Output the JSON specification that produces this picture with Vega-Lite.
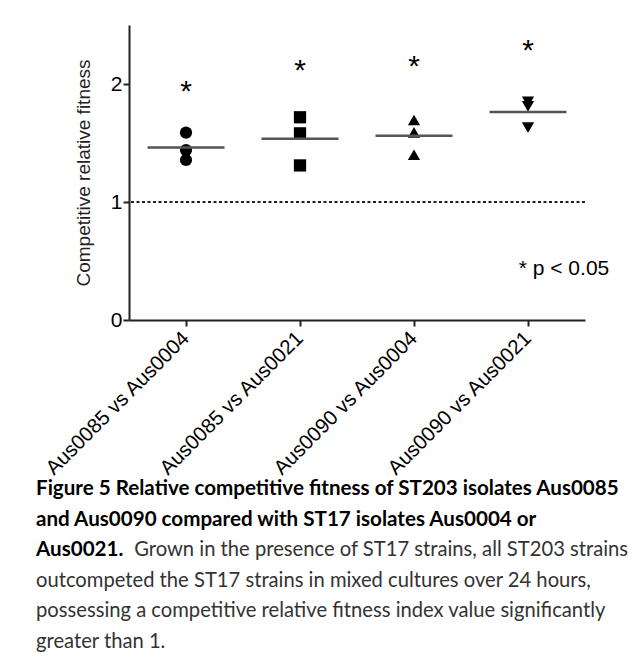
{
  "$schema": "https://vega.github.io/schema/vega-lite/v6.json",
  "width": 456,
  "height": 295,
  "autosize": {"type": "none"},
  "padding": {"left": 129, "top": 25, "right": 48, "bottom": 342},
  "background": "white",
  "config": {"view": {"stroke": null}, "font": "Liberation Sans"},
  "datasets": {
    "points": [
      {"group": "Aus0085 vs Aus0004", "value": 1.588},
      {"group": "Aus0085 vs Aus0004", "value": 1.44},
      {"group": "Aus0085 vs Aus0004", "value": 1.356},
      {"group": "Aus0085 vs Aus0021", "value": 1.718},
      {"group": "Aus0085 vs Aus0021", "value": 1.582},
      {"group": "Aus0085 vs Aus0021", "value": 1.31},
      {"group": "Aus0090 vs Aus0004", "value": 1.695},
      {"group": "Aus0090 vs Aus0004", "value": 1.59},
      {"group": "Aus0090 vs Aus0004", "value": 1.40},
      {"group": "Aus0090 vs Aus0021", "value": 1.85},
      {"group": "Aus0090 vs Aus0021", "value": 1.81},
      {"group": "Aus0090 vs Aus0021", "value": 1.63}
    ],
    "stars": [
      {"group": "Aus0085 vs Aus0004", "value": 2.0},
      {"group": "Aus0085 vs Aus0021", "value": 2.18},
      {"group": "Aus0090 vs Aus0004", "value": 2.21},
      {"group": "Aus0090 vs Aus0021", "value": 2.35}
    ],
    "note": [{"group": "Aus0090 vs Aus0021", "value": 0.38, "label": "* p < 0.05"}],
    "ref": [{"value": 1}]
  },
  "title": {
    "text": [
      "Figure 5 Relative competitive fitness of ST203 isolates Aus0085",
      "and Aus0090 compared with ST17 isolates Aus0004 or",
      "Aus0021."
    ],
    "subtitle": [
      "\u200b\u00a0\u00a0\u00a0\u00a0\u00a0\u00a0\u00a0\u00a0\u00a0\u00a0\u00a0\u00a0\u00a0\u00a0\u00a0\u00a0\u00a0\u00a0\u00a0Grown in the presence of ST17 strains, all ST203 strains",
      "outcompeted the ST17 strains in mixed cultures over 24 hours,",
      "possessing a competitive relative fitness index value significantly",
      "greater than 1."
    ],
    "orient": "bottom",
    "anchor": "start",
    "frame": "group",
    "dx": -93,
    "offset": 0,
    "font": "Lato",
    "fontSize": 20.6,
    "fontWeight": "bold",
    "color": "black",
    "lineHeight": 30.4,
    "subtitleFont": "Lato",
    "subtitleFontSize": 20.2,
    "subtitleFontWeight": "normal",
    "subtitleColor": "#333333",
    "subtitleLineHeight": 30.4,
    "subtitlePadding": -20.4
  },
  "layer": [
    {
      "data": {"name": "ref"},
      "mark": {"type": "rule", "strokeDash": [3, 2.5], "strokeWidth": 2, "color": "#222222"},
      "encoding": {
        "y": {"field": "value", "type": "quantitative", "scale": {"domain": [0, 2.5], "nice": false}}
      }
    },
    {
      "data": {"name": "points"},
      "mark": {"type": "point", "filled": true, "size": 150, "opacity": 1, "color": "black"},
      "encoding": {
        "x": {
          "field": "group", "type": "nominal", "sort": null,
          "scale": {"type": "band", "paddingInner": 0, "paddingOuter": 0},
          "axis": {
            "title": null, "labelAngle": -45, "labelFontSize": 20.5, "labelAlign": "right",
            "labelBaseline": "middle", "labelPadding": 9, "labelLimit": 400, "labelColor": "black",
            "tickSize": 6, "tickWidth": 2, "tickColor": "#222222", "domainWidth": 2, "domainColor": "#222222"
          }
        },
        "y": {
          "field": "value", "type": "quantitative",
          "scale": {"domain": [0, 2.5], "nice": false},
          "axis": {
            "values": [0, 1, 2], "format": "d", "grid": false, "title": "Competitive relative fitness",
            "titleFontSize": 19, "titleFontWeight": "normal", "titleColor": "#222222", "titlePadding": 17,
            "labelFontSize": 21, "labelColor": "black", "labelPadding": 1,
            "tickSize": 6, "tickWidth": 2, "tickColor": "#222222", "domainWidth": 2, "domainColor": "#222222"
          }
        },
        "shape": {
          "field": "group", "type": "nominal",
          "scale": {
            "domain": ["Aus0085 vs Aus0004", "Aus0085 vs Aus0021", "Aus0090 vs Aus0004", "Aus0090 vs Aus0021"],
            "range": ["circle", "square", "triangle-up", "triangle-down"]
          },
          "legend": null
        }
      }
    },
    {
      "data": {"name": "points"},
      "mark": {"type": "tick", "size": 77, "thickness": 2.5, "color": "#555555", "opacity": 1},
      "encoding": {
        "x": {"field": "group", "type": "nominal", "sort": null},
        "y": {"aggregate": "mean", "field": "value", "type": "quantitative"}
      }
    },
    {
      "data": {"name": "stars"},
      "mark": {"type": "text", "fontSize": 30, "baseline": "alphabetic", "dy": 17, "color": "black"},
      "encoding": {
        "x": {"field": "group", "type": "nominal", "sort": null},
        "y": {"field": "value", "type": "quantitative"},
        "text": {"value": "*"}
      }
    },
    {
      "data": {"name": "note"},
      "mark": {"type": "text", "fontSize": 21, "baseline": "alphabetic", "align": "center", "dx": 36, "color": "black"},
      "encoding": {
        "x": {"field": "group", "type": "nominal", "sort": null},
        "y": {"field": "value", "type": "quantitative"},
        "text": {"field": "label"}
      }
    }
  ]
}
